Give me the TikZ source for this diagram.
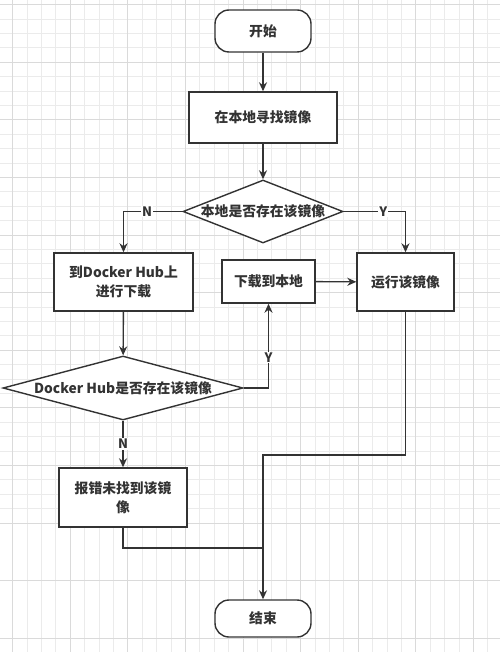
\documentclass[tikz,border=0pt]{standalone}
\usepackage{fontspec}
\newfontfamily\cjk{Noto Sans CJK SC}
\usetikzlibrary{shapes.geometric,arrows.meta}
\definecolor{ink}{HTML}{333333}
\definecolor{gridminor}{HTML}{EBEBEB}
\definecolor{gridmajor}{HTML}{DADADA}
\tikzset{
    box/.style={draw=ink, line width=1.4pt, fill=white, inner sep=0pt, align=center},
    term/.style={box, rounded corners=14pt},
    decide/.style={draw=ink, line width=1.4pt, fill=white, diamond, inner sep=0pt},
    arrow/.style={draw=ink, line width=1.4pt, -{Stealth[length=9pt,width=8pt]}},
    link/.style={draw=ink, line width=1.4pt},
    lbl/.style={fill=white, inner sep=1pt, text=ink, font=\cjk\bfseries\fontsize{13}{15}\selectfont},
}
\begin{document}
\begin{tikzpicture}[x=1pt, y=-1pt, font=\cjk\bfseries\fontsize{13.8}{19}\selectfont, text=ink]
    % Background grid
    \useasboundingbox (0,0) rectangle (500,652);
    \fill[white] (0,0) rectangle (500,652);
    \foreach \i in {-1,...,35} {
        \draw[gridminor, line width=0.6pt] (12.5+14.4*\i, 0) -- (12.5+14.4*\i, 652);
        \draw[gridminor, line width=0.6pt] (0, 4.5+14.4*\i) -- (500, 4.5+14.4*\i);
    }
    \foreach \i in {0,...,11} {
        \draw[gridmajor, line width=0.8pt] (12.5+57.6*\i, 0) -- (12.5+57.6*\i, 652);
        \draw[gridmajor, line width=0.8pt] (0, 4.5+57.6*\i) -- (500, 4.5+57.6*\i);
    }

    % Nodes
    \node [term, minimum width=96pt, minimum height=42pt] (start) at (263,31) {开始};
    \node [box, minimum width=148pt, minimum height=51pt] (find) at (263,117.5) {在本地寻找镜像};
    \node [decide, minimum width=160pt, minimum height=63pt] (qlocal) at (263,211.5) {};
    \node (tqlocal) at (qlocal) {本地是否存在该镜像};
    \node [box, minimum width=139pt, minimum height=58pt] (pull) at (123.5,282) {到Docker Hub上\\进行下载};
    \node [box, minimum width=93pt, minimum height=43pt] (save) at (268.5,281.5) {下载到本地};
    \node [box, minimum width=97pt, minimum height=58pt] (run) at (405.5,282) {运行该镜像};
    \node [decide, minimum width=240pt, minimum height=64pt] (qhub) at (123,388) {};
    \node (tqhub) at (qhub) {Docker Hub是否存在该镜像};
    \node [box, minimum width=128pt, minimum height=59pt] (fail) at (123,497.5) {报错未找到该镜\\像};
    \node [term, minimum width=96pt, minimum height=37pt] (stop) at (263,618.5) {结束};
    \coordinate (jrun) at (263,455);
    \coordinate (jfail) at (263,548);

    % Connectors
    \draw [arrow] (start) -- (find);
    \draw [arrow] (find) -- (qlocal);
    \draw [arrow] (qlocal.west) -| node [lbl, pos=0.3] {N} (pull.north);
    \draw [arrow] (qlocal.east) -| node [lbl, pos=0.32] {Y} (run.north);
    \draw [arrow] (save) -- (run);
    \draw [arrow] (pull) -- (qhub);
    \draw [arrow] (qhub.east) -| node [lbl, pos=0.68] {Y} (save.south);
    \draw [arrow] (qhub.south) -- node [lbl] {N} (fail.north);
    \draw [link] (fail.south) |- (jfail);
    \draw [arrow] (run.south) |- (jrun) -- (stop.north);
\end{tikzpicture}
\end{document}
